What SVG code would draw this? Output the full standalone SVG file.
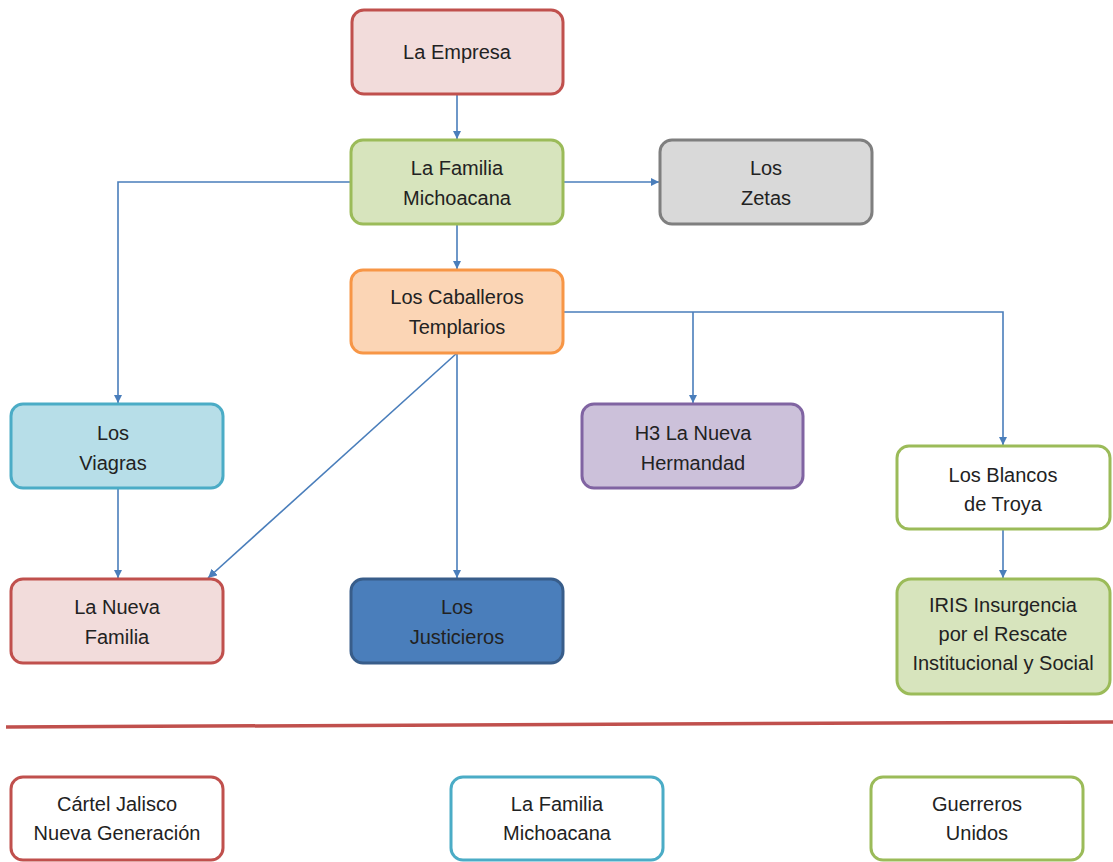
<svg xmlns="http://www.w3.org/2000/svg" width="1113" height="862" viewBox="0 0 1113 862">
<style>
rect{stroke-width:3}
text{font-family:"Liberation Sans",Arial,sans-serif;font-size:20px;fill:#222;text-anchor:middle}
.c{fill:none;stroke:#4A7EBB;stroke-width:1.6}
.red{fill:#F2DCDB;stroke:#C0504D}
.grn{fill:#D7E4BD;stroke:#9BBB59}
.gry{fill:#D9D9D9;stroke:#7F7F7F}
.org{fill:#FBD5B5;stroke:#F79646}
.cyn{fill:#B7DEE8;stroke:#4BACC6}
.pur{fill:#CCC1DA;stroke:#8064A2}
.blu{fill:#4A7EBB;stroke:#385D8A}
.wr{fill:#fff;stroke:#C0504D}
.wc{fill:#fff;stroke:#4BACC6}
.wg{fill:#fff;stroke:#9BBB59}
</style>
<defs>
<marker id="a" viewBox="0 0 10 10" refX="10" refY="5" markerWidth="8" markerHeight="8" markerUnits="userSpaceOnUse" orient="auto"><path d="M0,0L10,5L0,10z" fill="#4A7EBB"/></marker>
<marker id="a2" viewBox="0 0 10 10" refX="10" refY="5" markerWidth="9" markerHeight="9" markerUnits="userSpaceOnUse" orient="auto"><path d="M0,0L10,5L0,10z" fill="#4A7EBB"/></marker>
</defs>
<g id="connectors">
<path class="c" d="M457,94V139" marker-end="url(#a)"/>
<path class="c" d="M563,182H659" marker-end="url(#a)"/>
<path class="c" d="M351,182H118V403" marker-end="url(#a)"/>
<path class="c" d="M457,224V269" marker-end="url(#a)"/>
<path class="c" d="M563,312H1003V445" marker-end="url(#a)"/>
<path class="c" d="M693,312V403" marker-end="url(#a)"/>
<path class="c" d="M457,353V578" marker-end="url(#a)"/>
<path class="c" d="M457,353L208,578" marker-end="url(#a2)"/>
<path class="c" d="M118,488V578" marker-end="url(#a)"/>
<path class="c" d="M1003,529V578" marker-end="url(#a)"/>
</g>
<g id="n-empresa"><rect class="red" x="352" y="10" width="211" height="84" rx="12"/><text x="457" y="59">La Empresa</text></g>
<g id="n-familia"><rect class="grn" x="351" y="140" width="212" height="84" rx="12"/><text x="457" y="175">La Familia</text><text x="457" y="205">Michoacana</text></g>
<g id="n-zetas"><rect class="gry" x="660" y="140" width="212" height="84" rx="12"/><text x="766" y="175">Los</text><text x="766" y="205">Zetas</text></g>
<g id="n-caballeros"><rect class="org" x="351" y="270" width="212" height="83" rx="12"/><text x="457" y="304">Los Caballeros</text><text x="457" y="334">Templarios</text></g>
<g id="n-viagras"><rect class="cyn" x="11" y="404" width="212" height="84" rx="12"/><text x="113" y="440">Los</text><text x="113" y="470">Viagras</text></g>
<g id="n-h3"><rect class="pur" x="582" y="404" width="221" height="84" rx="12"/><text x="693" y="440">H3 La Nueva</text><text x="693" y="470">Hermandad</text></g>
<g id="n-blancos"><rect class="wg" x="897" y="446" width="213" height="83" rx="12"/><text x="1003" y="482">Los Blancos</text><text x="1003" y="511">de Troya</text></g>
<g id="n-nuevafamilia"><rect class="red" x="11" y="579" width="212" height="84" rx="12"/><text x="117" y="614">La Nueva</text><text x="117" y="644">Familia</text></g>
<g id="n-justicieros"><rect class="blu" x="351" y="579" width="212" height="84" rx="12"/><text x="457" y="614">Los</text><text x="457" y="644">Justicieros</text></g>
<g id="n-iris"><rect class="grn" x="897" y="579" width="213" height="115" rx="14"/><text x="1003" y="612">IRIS Insurgencia</text><text x="1003" y="641">por el Rescate</text><text x="1003" y="670">Institucional y Social</text></g>
<path d="M6,727L1113,722" stroke="#C0504D" stroke-width="3.5" fill="none"/>
<g id="n-cjng"><rect class="wr" x="11" y="777" width="212" height="83" rx="12"/><text x="117" y="811">Cártel Jalisco</text><text x="117" y="840">Nueva Generación</text></g>
<g id="n-lfm"><rect class="wc" x="451" y="777" width="212" height="83" rx="12"/><text x="557" y="811">La Familia</text><text x="557" y="840">Michoacana</text></g>
<g id="n-gu"><rect class="wg" x="871" y="777" width="212" height="83" rx="12"/><text x="977" y="811">Guerreros</text><text x="977" y="840">Unidos</text></g>
</svg>
